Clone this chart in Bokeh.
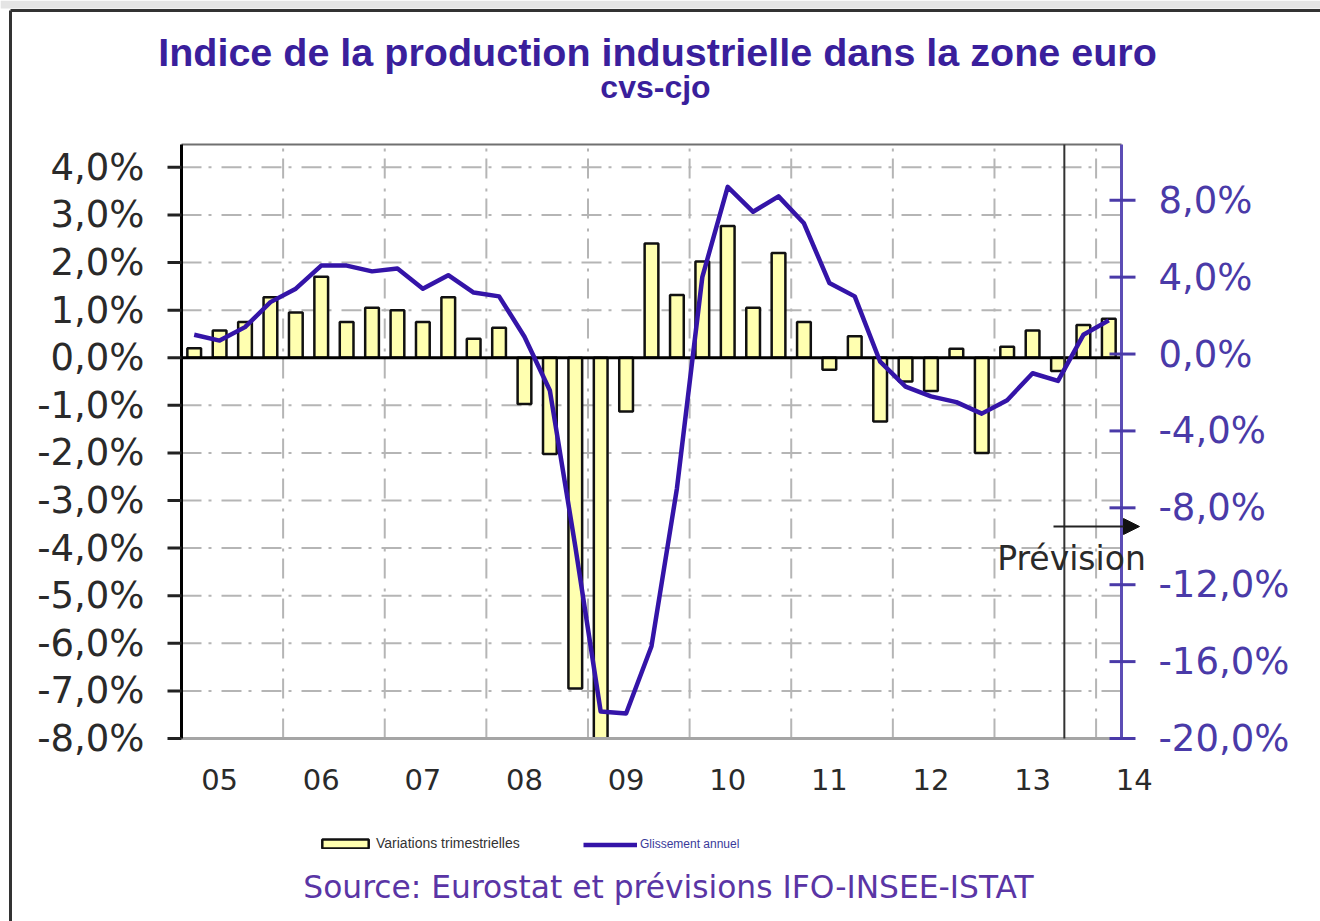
from bokeh.plotting import figure
from bokeh.models import (Range1d, Arrow, NormalHead, Legend, LegendItem,
                          ColumnDataSource)
from bokeh.core.properties import value
from bokeh.embed import file_html
from bokeh.resources import INLINE

# ---------------- data ----------------
quarters = [f"{y}T{q}" for y in range(2005, 2014) for q in (1, 2, 3, 4)] + ["2014T1"]

variations_trimestrielles = [
    0.2, 0.57, 0.75, 1.27, 0.95, 1.7, 0.75, 1.05, 1.0, 0.75, 1.27, 0.4, 0.63,
    -0.97, -2.02, -6.95, -8.8, -1.13, 2.4, 1.32, 2.02, 2.77, 1.05, 2.2, 0.75,
    -0.25, 0.45, -1.34, -0.5, -0.7, 0.19, -2.0, 0.23, 0.57, -0.28, 0.69, 0.82,
]

glissement_annuel = [
    1.0, 0.7, 1.4, 2.7, 3.4, 4.6, 4.6, 4.3, 4.45, 3.4, 4.1, 3.2, 3.0,
    0.9, -1.9, -10.0, -18.6, -18.7, -15.2, -7.0, 4.0, 8.7, 7.4, 8.2, 6.8,
    3.7, 3.0, -0.4, -1.7, -2.2, -2.5, -3.1, -2.4, -1.0, -1.4, 1.0, 1.75,
]

year_labels = ["05", "06", "07", "08", "09", "10", "11", "12", "13", "14"]

left_ticks = [-8, -7, -6, -5, -4, -3, -2, -1, 0, 1, 2, 3, 4]
left_labels = ["-8,0%", "-7,0%", "-6,0%", "-5,0%", "-4,0%", "-3,0%", "-2,0%",
               "-1,0%", "0,0%", "1,0%", "2,0%", "3,0%", "4,0%"]
right_ticks = [-20, -16, -12, -8, -4, 0, 4, 8]
right_labels = ["-20,0%", "-16,0%", "-12,0%", "-8,0%", "-4,0%", "0,0%", "4,0%", "8,0%"]

left_min, left_max = -8, 4.48
right_min, right_max = -20, 10.9
forecast_start = 34.75  # position of the "Prévision" marker (quarter units)

# ---------------- layout helpers (canvas pixel -> data) ----------------
W, H = 1320, 921
PL, PR, PT, PB = 181, 1121, 144, 738          # plot area on the canvas
N = len(quarters)
PXX = (PR - PL) / N


def xd(px):
    return (px - PL) / PXX


def yl(py):
    return left_min + (PB - py) * (left_max - left_min) / (PB - PT)


def yr(py):
    return right_min + (PB - py) * (right_max - right_min) / (PB - PT)


p = figure(width=W, height=H, output_backend="svg", toolbar_location=None,
           title=None, x_axis_location=None, y_axis_location=None,
           x_range=Range1d(xd(0), xd(W)),
           y_range=Range1d(yl(H), yl(0)),
           min_border=0, min_border_left=0, min_border_right=0,
           min_border_top=0, min_border_bottom=0)
p.extra_y_ranges = {"right": Range1d(yr(H), yr(0))}
p.grid.visible = False
p.outline_line_color = None
p.background_fill_color = "white"
p.border_fill_color = "white"

xpos = [i + 0.5 for i in range(N)]
src = ColumnDataSource(dict(x=xpos, q=quarters, bar=variations_trimestrielles,
                            line=glissement_annuel))

# ---------------- outer frame of the image ----------------
p.quad(left=[xd(0)], right=[xd(W)], top=[yl(0)], bottom=[yl(8)],
       fill_color="#E4E4E4", line_color=None)
p.segment(x0=[xd(10), xd(10)], y0=[yl(10), yl(10)],
          x1=[xd(W), xd(10)], y1=[yl(10), yl(H)],
          line_color="#333333", line_width=3)

# ---------------- grid ----------------
grid_dash = "20 7 3 10"
hgrid = [t for t in left_ticks if t != left_min]
p.segment(x0=[0] * len(hgrid), x1=[N] * len(hgrid), y0=hgrid, y1=hgrid,
          line_color="#B5B5B5", line_width=2, line_dash=grid_dash)
vgrid = [4 * k for k in range(1, 10)]
p.segment(x0=vgrid, x1=vgrid, y0=[left_min] * len(vgrid), y1=[left_max] * len(vgrid),
          line_color="#B5B5B5", line_width=2, line_dash=grid_dash)

# plot-area top border
p.segment(x0=[0], x1=[N], y0=[left_max], y1=[left_max], line_color="#707070", line_width=2)

# ---------------- bars ----------------
bars = p.vbar(x="x", top="bar", bottom=0, width=0.54, source=src,
              fill_color="#FFFFB0", line_color="#111111", line_width=2.5)
# the axis minimum clips the deepest bar: white mask below the plot area
p.quad(left=[xd(PL - 2)], right=[xd(PR + 2)], top=[left_min], bottom=[yl(PB + 60)],
       fill_color="white", line_color=None)
p.segment(x0=[0], x1=[N], y0=[left_min], y1=[left_min], line_color="#A5A5A5", line_width=3)

# zero line
p.segment(x0=[0], x1=[N], y0=[0], y1=[0], line_color="black", line_width=3)

# ---------------- forecast marker ----------------
p.segment(x0=[forecast_start], x1=[forecast_start], y0=[left_min], y1=[left_max],
          line_color="#333333", line_width=2)

# ---------------- annual growth line (right axis) ----------------
line = p.line(x="x", y="line", source=src, y_range_name="right",
              line_color="#3414A8", line_width=4.5, line_join="round")

# ---------------- left axis ----------------
p.segment(x0=[0], x1=[0], y0=[left_min], y1=[left_max], line_color="black", line_width=3)
p.segment(x0=[xd(PL - 14)] * len(left_ticks), x1=[0] * len(left_ticks),
          y0=left_ticks, y1=left_ticks, line_color="#222222", line_width=3)
p.text(x=[xd(144)] * len(left_ticks), y=left_ticks, text=left_labels,
       text_align="right", text_baseline="middle", text_font=value("DejaVu Sans"),
       text_font_size="37px", text_color="#2a2a2a")

# ---------------- right axis ----------------
p.segment(x0=[N], x1=[N], y0=[right_min], y1=[right_max], y_range_name="right",
          line_color="#5C4DB5", line_width=3)
p.segment(x0=[xd(PR - 12)] * len(right_ticks), x1=[xd(PR + 14)] * len(right_ticks),
          y0=right_ticks, y1=right_ticks, y_range_name="right",
          line_color="#4A3AA8", line_width=3)
p.text(x=[xd(1158)] * len(right_ticks), y=right_ticks, text=right_labels,
       y_range_name="right", text_align="left", text_baseline="middle",
       text_font=value("DejaVu Sans"), text_font_size="37px", text_color="#4A3AA8")

# ---------------- x labels (second quarter of each year) ----------------
p.text(x=[4 * k + 1.5 for k in range(len(year_labels))], y=[yl(779)] * len(year_labels),
       text=year_labels, text_align="center", text_baseline="middle",
       text_font=value("DejaVu Sans"), text_font_size="29px", text_color="#2a2a2a")

# ---------------- forecast arrow and label ----------------
p.add_layout(Arrow(x_start=xd(1053), y_start=yl(526), x_end=xd(1139), y_end=yl(526),
                   line_color="#222222", line_width=2,
                   end=NormalHead(size=16, fill_color="#111111", line_color="#111111")))
p.text(x=[xd(1071)], y=[yl(558)], text=["Prévision"], text_align="center",
       text_baseline="middle", text_font=value("DejaVu Sans"),
       text_font_size="33px", text_color="#2a2a2a")

# ---------------- titles and source ----------------
p.text(x=[xd(657)], y=[yl(51)], text=["Indice de la production industrielle dans la zone euro"],
       text_align="center", text_baseline="middle", text_font=value("Liberation Sans"),
       text_font_style="bold", text_font_size="39.5px", text_color="#3A1F9C")
p.text(x=[xd(655)], y=[yl(86)], text=["cvs-cjo"], text_align="center",
       text_baseline="middle", text_font=value("Liberation Sans"),
       text_font_style="bold", text_font_size="32px", text_color="#3A1F9C")
p.text(x=[xd(668)], y=[yl(886)], text=["Source: Eurostat et prévisions IFO-INSEE-ISTAT"],
       text_align="center", text_baseline="middle", text_font=value("DejaVu Sans"),
       text_font_size="31.3px", text_color="#5A35A5")

# ---------------- legends (location in canvas pixels from bottom-left) ----------------
leg1 = Legend(items=[LegendItem(label="Variations trimestrielles", renderers=[bars])],
              location=(316, H - 851), orientation="horizontal", padding=0, margin=0,
              border_line_alpha=0, background_fill_alpha=0, glyph_width=58,
              glyph_height=11, label_height=11, label_standoff=2,
              label_text_font="Liberation Sans", label_text_font_size="14px",
              label_text_color="#333333")
leg2 = Legend(items=[LegendItem(label="Glissement annuel", renderers=[line])],
              location=(583, H - 851), orientation="horizontal", padding=0, margin=0,
              border_line_alpha=0, background_fill_alpha=0, glyph_width=54,
              glyph_height=11, label_height=11, label_standoff=3,
              label_text_font="Liberation Sans", label_text_font_size="12px",
              label_text_color="#3A3A9A")
p.add_layout(leg1)
p.add_layout(leg2)

open("out.html", "w").write(file_html(p, INLINE))
